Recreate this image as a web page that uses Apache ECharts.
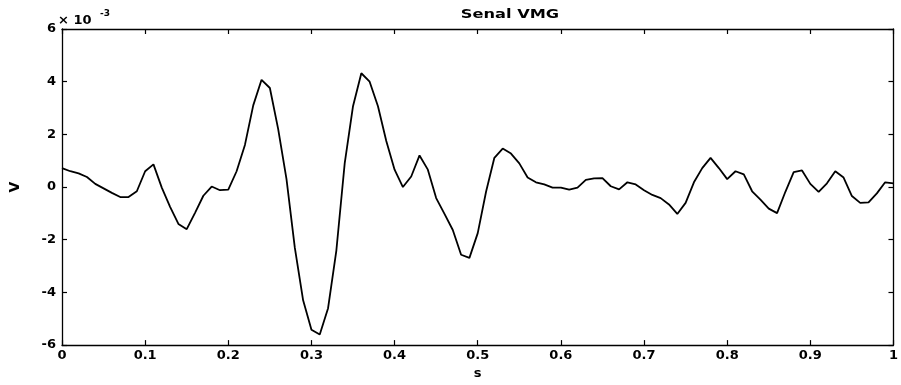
<!DOCTYPE html>
<html>
<head>
<meta charset="utf-8">
<script src="https://cdn.jsdelivr.net/npm/echarts@6/dist/echarts.min.js"></script>
<style>
html,body{margin:0;padding:0;background:#fff;}
#c{width:901px;height:385px;}
</style>
</head>
<body>
<div id="c"></div>
<script>
// Signal sampled every 0.01 s, values in units of 1e-3 V
var sampleStep = 0.01;
var signal = [
  0.72, 0.60, 0.52, 0.38, 0.12, -0.05, -0.22, -0.38, -0.38, -0.16,
  0.60, 0.86, -0.02, -0.75, -1.40, -1.60, -0.98, -0.33, 0.02, -0.12,
  -0.10, 0.60, 1.60, 3.10, 4.07, 3.76, 2.20, 0.30, -2.30, -4.30,
  -5.42, -5.60, -4.60, -2.40, 0.90, 3.07, 4.32, 4.00, 3.07, 1.75,
  0.66, 0.00, 0.40, 1.20, 0.66, -0.42, -1.02, -1.63, -2.57, -2.69,
  -1.75, -0.18, 1.11, 1.46, 1.27, 0.90, 0.36, 0.18, 0.10, -0.02,
  -0.02, -0.10, -0.02, 0.27, 0.33, 0.34, 0.03, -0.09, 0.18, 0.10,
  -0.12, -0.30, -0.42, -0.66, -1.02, -0.60, 0.18, 0.72, 1.11, 0.72,
  0.30, 0.60, 0.48, -0.16, -0.48, -0.82, -0.99, -0.18, 0.57, 0.63,
  0.12, -0.18, 0.14, 0.60, 0.36, -0.34, -0.60, -0.58, -0.24, 0.18,
  0.14
];
var yTicks = [-6, -4, -2, 0, 2, 4, 6];
var xTicks = [0, 0.1, 0.2, 0.3, 0.4, 0.5, 0.6, 0.7, 0.8, 0.9, 1];
var titleText = 'Senal VMG';
var xName = 's';
var yName = 'V';

var pts = signal.map(function (v, i) { return [+(i * sampleStep).toFixed(2), v]; });

var FONT = 'DejaVu Sans';
var lab = { color: '#000', fontFamily: FONT, fontWeight: 'bold', fontSize: 13 };
var axLine = { show: true, onZero: false, lineStyle: { color: '#000', width: 1.3 } };
var tick = { show: true, inside: true, length: 5, lineStyle: { color: '#000', width: 1.2 } };

var chart = echarts.init(document.getElementById('c'), null, { renderer: 'canvas' });
chart.setOption({
  backgroundColor: '#fff',
  animation: false,
  grid: { left: 58, right: 2, top: 29, bottom: 25, containLabel: false },
  xAxis: [
    {
      type: 'value', min: 0, max: 1, interval: 0.1, position: 'bottom',
      name: xName, nameLocation: 'middle', nameGap: 20,
      nameTextStyle: { color: '#000', fontFamily: FONT, fontWeight: 'bold', fontSize: 13 },
      axisLine: axLine, axisTick: tick,
      axisLabel: Object.assign({ margin: 4, formatter: function (v) {
        var s = xTicks.filter(function (t) { return Math.abs(t - v) < 1e-6; });
        return s.length ? String(s[0]) : '';
      } }, lab),
      splitLine: { show: false }
    },
    {
      type: 'value', min: 0, max: 1, interval: 0.1, position: 'top',
      axisLine: axLine, axisTick: tick, axisLabel: { show: false }, splitLine: { show: false }
    }
  ],
  yAxis: [
    {
      type: 'value', min: -6, max: 6, interval: 2, position: 'left',
      name: yName, nameLocation: 'middle', nameGap: 40, nameRotate: 90,
      nameTextStyle: { color: '#000', fontFamily: FONT, fontWeight: 'bold', fontSize: 14 },
      axisLine: axLine, axisTick: tick,
      axisLabel: Object.assign({ margin: 6, formatter: function (v) {
        return yTicks.indexOf(Math.round(v)) >= 0 ? String(Math.round(v)) : '';
      } }, lab),
      splitLine: { show: false }
    },
    {
      type: 'value', min: -6, max: 6, interval: 2, position: 'right',
      axisLine: axLine, axisTick: tick, axisLabel: { show: false }, splitLine: { show: false }
    }
  ],
  graphic: [
    {
      type: 'text', x: 510, y: 15, scaleX: 1.35, scaleY: 1,
      style: { text: titleText, fill: '#000', font: 'bold 12px "DejaVu Sans"', align: 'center', verticalAlign: 'middle' }
    },
    {
      type: 'text', x: 58, y: 21,
      style: { text: '× 10', fill: '#000', font: 'bold 13px "DejaVu Sans"', align: 'left', verticalAlign: 'middle' }
    },
    {
      type: 'text', x: 100, y: 14,
      style: { text: '-3', fill: '#000', font: 'bold 9px "DejaVu Sans"', align: 'left', verticalAlign: 'middle' }
    }
  ],
  series: [
    {
      type: 'line', data: pts, showSymbol: false, smooth: false,
      lineStyle: { color: '#000', width: 1.8 }, silent: true
    }
  ]
});
</script>
</body>
</html>
